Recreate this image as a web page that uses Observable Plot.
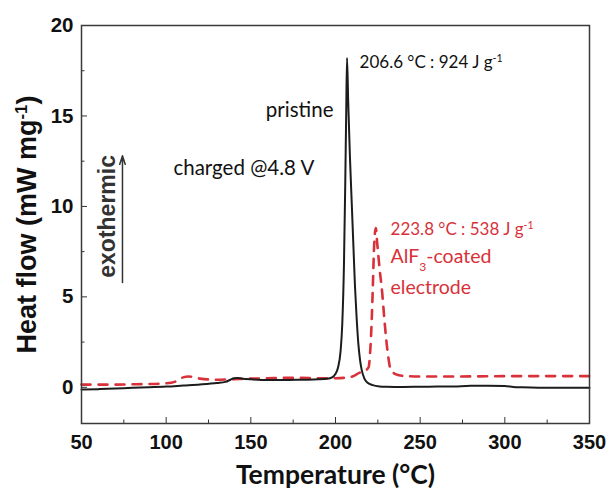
<!DOCTYPE html>
<html>
<head>
<meta charset="utf-8">
<script src="https://cdn.jsdelivr.net/npm/d3@7"></script>
<script src="https://cdn.jsdelivr.net/npm/@observablehq/plot@0.6"></script>
<style>
  body { margin: 0; background: #fff; }
  #chart { width: 609px; height: 492px; }
</style>
</head>
<body>
<div id="chart"></div>
<script>
// Pristine electrode (black solid)
const pristineT  = [50, 60, 70, 80, 90, 100, 110, 120, 130, 135, 138, 140, 142, 145, 150, 160, 170, 180, 190, 195, 198, 200, 201.5, 203, 204, 205, 205.7, 206.3, 206.8, 207.5, 208.5, 209.5, 210.5, 211.5, 212.5, 213.5, 214.5, 215.5, 217, 219, 222, 226, 230, 240, 250, 260, 270, 280, 290, 300, 305, 310, 320, 330, 340, 350];
const pristineHF = [-0.12, -0.1, -0.07, -0.03, 0.0, 0.04, 0.1, 0.16, 0.24, 0.3, 0.42, 0.5, 0.52, 0.48, 0.44, 0.4, 0.4, 0.42, 0.44, 0.47, 0.55, 0.75, 1.1, 2.0, 3.5, 6.8, 10.9, 15, 18.2, 15.8, 12.8, 10.4, 8, 5.6, 3.8, 2.4, 1.5, 0.95, 0.5, 0.25, 0.12, 0.05, 0.03, 0.02, 0.03, 0.04, 0.05, 0.08, 0.08, 0.07, 0.02, 0.0, -0.02, -0.02, -0.02, -0.02];

// AlF3-coated electrode (red dashed)
const coatedT  = [50, 60, 70, 80, 90, 100, 105, 110, 113, 117, 120, 130, 140, 150, 160, 170, 180, 190, 200, 205, 210, 214, 217, 219.5, 220.5, 221.3, 222, 222.8, 223.8, 224.6, 226, 227.6, 229, 231, 232.5, 234.5, 237, 240, 250, 270, 290, 310, 330, 350];
const coatedHF = [0.15, 0.15, 0.15, 0.17, 0.18, 0.22, 0.3, 0.55, 0.6, 0.55, 0.48, 0.42, 0.45, 0.48, 0.5, 0.52, 0.52, 0.5, 0.5, 0.52, 0.6, 0.8, 0.9, 1.1, 2.0, 3.5, 5.4, 7.8, 8.8, 8.0, 6.6, 5.2, 3.6, 1.8, 1.0, 0.78, 0.68, 0.63, 0.6, 0.6, 0.61, 0.62, 0.62, 0.62];

// Axis ticks
const xTicks = [50, 100, 150, 200, 250, 300, 350];
const xMinorTicks = [75, 125, 175, 225, 275, 325];
const yTicks = [0, 5, 10, 15, 20];
const yMinorTicks = [2.5, 7.5, 12.5, 17.5];

// Axis titles
const xTitle = "Temperature (°C)";
const yTitle = "Heat flow (mW mg^{-1})";

// Peak annotations (anchored at their left end, data coordinates)
const peakLabels = ["206.6 °C : 924 J g^{-1}", "223.8 °C : 538 J g^{-1}"];
const peakLabelT = [214.2, 232.5];
const peakLabelHF = [17.95, 8.72];
const peakLabelColor = ["#111111", "#d8313a"];

// Sample annotations
const pristineLabel = "pristine";          // right-aligned
const pristineLabelT = 198.8, pristineLabelHF = 15.3;
const chargedLabel = "charged @4.8 V";     // left-aligned
const chargedLabelT = 104.3, chargedLabelHF = 12.1;
const coatedLabels = ["AlF_{3}-coated", "electrode"];  // left-aligned
const coatedLabelT = [232.5, 232.5];
const coatedLabelHF = [7.22, 5.5];

const exoLabel = "exothermic";
const exoLabelT = 65.4, exoLabelHF = 9.45;
const exoArrowT = 74.2, exoArrowFromHF = 5.8, exoArrowToHF = 12.8;

const RED = "#d8313a";
const BLACK = "#1c1c1c";

const pristine = pristineT.map((t, i) => ({t, hf: pristineHF[i]}));
const coated = coatedT.map((t, i) => ({t, hf: coatedHF[i]}));
const peakAnn = peakLabels.map((s, i) => ({s, t: peakLabelT[i], hf: peakLabelHF[i], c: peakLabelColor[i]}));
const coatedAnn = coatedLabels.map((s, i) => ({s, t: coatedLabelT[i], hf: coatedLabelHF[i]}));

const annFont = "Lato, 'Open Sans', sans-serif";
const axisFont = "'Liberation Sans', Arial, sans-serif";

const chart = Plot.plot({
  width: 609,
  height: 492,
  marginLeft: 81,
  marginRight: 20,
  marginTop: 25,
  marginBottom: 69,
  x: {domain: [50, 350]},
  y: {domain: [-2, 20]},
  style: {fontFamily: axisFont, background: "white", color: "#111", overflow: "visible"},
  marks: [
    Plot.axisX(xTicks, {tickSize: -6, tickPadding: 17, fontSize: 20, fontWeight: "bold", label: null, stroke: "#333", fill: "#111"}),
    Plot.axisX(xMinorTicks, {tickSize: -3.5, tickFormat: () => "", label: null, stroke: "#333"}),
    Plot.axisY(yTicks, {tickSize: -6, tickPadding: 14, fontSize: 20.5, fontWeight: "bold", label: null, stroke: "#333", fill: "#111"}),
    Plot.axisY(yMinorTicks, {tickSize: -3.5, tickFormat: () => "", label: null, stroke: "#333"}),
    Plot.line(coated, {x: "t", y: "hf", stroke: RED, strokeWidth: 2.6, strokeDasharray: "9,8", curve: "monotone-x"}),
    Plot.line(pristine, {x: "t", y: "hf", stroke: BLACK, strokeWidth: 2, curve: "monotone-x"}),
    Plot.frame({stroke: "#3a3a3a", strokeWidth: 1.5}),
    Plot.text([xTitle], {text: d => d, frameAnchor: "bottom", textAnchor: "middle", lineAnchor: "middle", dy: 52, fontSize: 26.5, fontWeight: "bold", fontFamily: annFont, letterSpacing: "0.9px", fill: "#111"}),
    Plot.text([yTitle], {text: d => d, frameAnchor: "left", textAnchor: "middle", lineAnchor: "middle", dx: -54, rotate: -90, fontSize: 27, fontWeight: "bold", fontFamily: axisFont, fill: "#111"}),
    Plot.text(peakAnn, {x: "t", y: "hf", text: "s", fill: "c", textAnchor: "start", fontSize: 17, fontFamily: annFont, letterSpacing: "-0.6px"}),
    Plot.text([pristineLabel], {x: () => pristineLabelT, y: () => pristineLabelHF, text: d => d, textAnchor: "end", fontSize: 20.5, fontFamily: annFont, fill: "#111"}),
    Plot.text([chargedLabel], {x: () => chargedLabelT, y: () => chargedLabelHF, text: d => d, textAnchor: "start", fontSize: 20.5, fontFamily: annFont, fill: "#111"}),
    Plot.text(coatedAnn, {x: "t", y: "hf", text: "s", textAnchor: "start", fontSize: 19.5, fontFamily: annFont, fill: RED}),
    Plot.text([exoLabel], {x: () => exoLabelT, y: () => exoLabelHF, text: d => d, rotate: -90, fontSize: 23, fontWeight: "bold", fontFamily: axisFont, fill: "#333"}),
    Plot.arrow([0], {x1: () => exoArrowT, x2: () => exoArrowT, y1: () => exoArrowFromHF, y2: () => exoArrowToHF, stroke: "#333", strokeWidth: 1.5, headLength: 9, headAngle: 35})
  ]
});

// Convert ^{..} and _{..} markup into superscript/subscript tspans
chart.querySelectorAll("text").forEach(t => {
  const s = t.textContent;
  if (!/[\^_]\{/.test(s)) return;
  const parts = s.split(/([\^_]\{[^}]*\})/);
  t.textContent = "";
  parts.forEach(p => {
    if (!p) return;
    const ts = document.createElementNS("http://www.w3.org/2000/svg", "tspan");
    const m = p.match(/^([\^_])\{([^}]*)\}$/);
    if (m) {
      ts.textContent = m[2];
      ts.style.fontSize = "0.62em";
      ts.setAttribute("baseline-shift", m[1] === "^" ? "super" : "sub");
    } else {
      ts.textContent = p;
    }
    t.appendChild(ts);
  });
});

document.getElementById("chart").appendChild(chart);
</script>
</body>
</html>
